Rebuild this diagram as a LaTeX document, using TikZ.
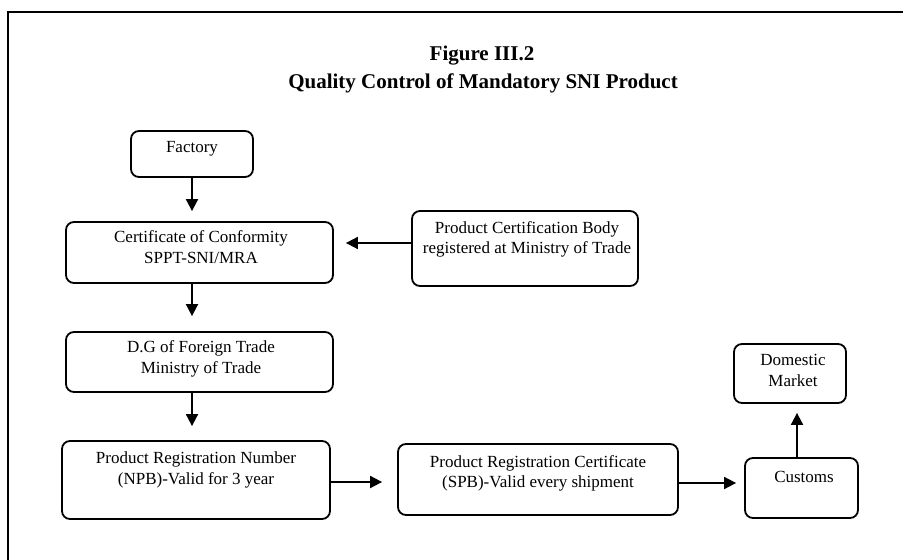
\documentclass[tikz,border=0pt]{standalone}
\usepackage{fontspec}
\setmainfont{Liberation Serif}
\usetikzlibrary{arrows.meta}
\begin{document}
\begin{tikzpicture}[x=1bp,y=-1bp,
  box/.style={draw,line width=1.8bp,rounded corners=8bp,inner sep=0pt},
  txt/.style={anchor=base,align=center,inner sep=0pt,font=\fontsize{17bp}{21bp}\selectfont},
  ttl/.style={anchor=base,inner sep=0pt,font=\fontsize{21bp}{25bp}\selectfont\bfseries},
  arr/.style={line width=1.8bp,-{Triangle[length=12bp,width=12bp]}}]
\useasboundingbox (0,0) rectangle (903,560);
\draw[line width=1.8bp] (8,560) -- (8,12) -- (903,12);
% title
\node[ttl] (t1) at (482,61) {Figure III.2};
\node[ttl] (t2) at (483,89) {Quality Control of Mandatory SNI Product};
% boxes
\node[box,minimum width=122bp,minimum height=46bp] (factory) at (192,154) {};
\node[box,minimum width=267bp,minimum height=61bp] (cert) at (199.5,252.5) {};
\node[box,minimum width=226bp,minimum height=75bp] (pcb) at (525,248.5) {};
\node[box,minimum width=267bp,minimum height=60bp] (dg) at (199.5,362) {};
\node[box,minimum width=268bp,minimum height=78bp] (npb) at (196,480) {};
\node[box,minimum width=280bp,minimum height=71bp] (spb) at (538,479.5) {};
\node[box,minimum width=113bp,minimum height=60bp] (customs) at (801.5,488) {};
\node[box,minimum width=112bp,minimum height=59bp] (market) at (790,373.5) {};
% texts
\node[txt] (tfactory) at (192,153) {Factory};
\node[txt] (tcert1) at (201,243) {Certificate of Conformity};
\node[txt] (tcert2) at (201,264) {SPPT-SNI/MRA};
\node[txt] (tpcb1) at (527,234) {Product Certification Body};
\node[txt] (tpcb2) at (527,254) {registered at Ministry of Trade};
\node[txt] (tdg1) at (201,353) {D.G of Foreign Trade};
\node[txt] (tdg2) at (201,373) {Ministry of Trade};
\node[txt] (tnpb1) at (196,463) {Product Registration Number};
\node[txt] (tnpb2) at (196,484) {(NPB)-Valid for 3 year};
\node[txt] (tspb1) at (538,467) {Product Registration Certificate};
\node[txt] (tspb2) at (538,487) {(SPB)-Valid every shipment};
\node[txt] (tcustoms) at (804,482) {Customs};
\node[txt] (tmarket1) at (793,365) {Domestic};
\node[txt] (tmarket2) at (793,386) {Market};
% arrows
\draw[arr,shorten >=10bp] (factory.south) -- (factory.south |- cert.north);
\draw[arr,shorten >=12bp] ([yshift=5.5bp]pcb.west) coordinate (p1) -- (p1 -| cert.east);
\draw[arr,shorten >=15bp] (factory.south |- cert.south) -- (factory.south |- dg.north);
\draw[arr,shorten >=14bp] (factory.south |- dg.south) -- (factory.south |- npb.north);
\draw[arr,shorten >=15bp] ([yshift=-2bp]npb.east) coordinate (p2) -- (p2 -| spb.west);
\draw[arr,shorten >=8bp] ([yshift=-3.5bp]spb.east) coordinate (p3) -- (p3 -| customs.west);
\draw[arr,shorten >=9bp] ([xshift=-4.5bp]customs.north) coordinate (p4) -- (p4 |- market.south);
\end{tikzpicture}
\end{document}
